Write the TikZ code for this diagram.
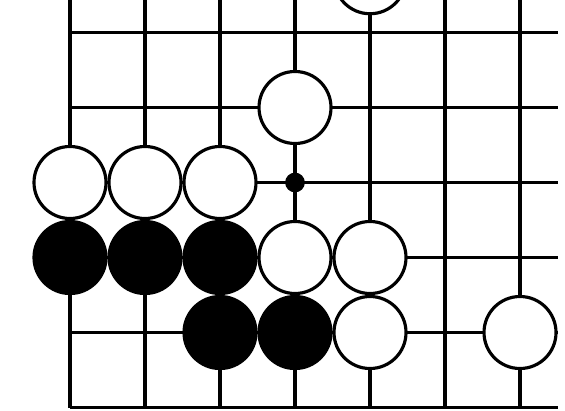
\documentclass[tikz,border=0pt]{standalone}
\usepackage{tikz}
\usetikzlibrary{positioning}

\begin{document}
\begin{tikzpicture}[
  every node/.style={draw, circle, minimum size=0.96cm, inner sep=0pt,
                     line width=1.2pt},
  whitestone/.style={fill=white},
  blackstone/.style={fill=black},
  dotnode/.style={fill=black, minimum size=0.22cm},
  boardline/.style={line width=1.2pt}
]

\clip (-0.9333,-0.0333) rectangle (6.6,5.4333);

%--- Board lines ---
\foreach \x in {0,...,6}
  \draw[boardline] (\x,0) -- (\x,5.5);
\foreach \y in {1,...,5}
  \draw[boardline] (0,\y) -- (6.5,\y);
\draw[line width=1.5pt] (0,0) -- (6.5,0);

%--- White stones ---
\node[whitestone] (W1) at (4, 5.73) {};
\node[whitestone] (W2) at (3, 4)    {};
\node[whitestone] (W3) at (0, 3)    {};
\node[whitestone] (W4) at (1, 3)    {};
\node[whitestone] (W5) at (2, 3)    {};
\node[whitestone] (W6) at (3, 2)    {};
\node[whitestone] (W7) at (4, 2)    {};
\node[whitestone] (W8) at (4, 1)    {};
\node[whitestone] (W9) at (6, 1)    {};

%--- Black stones ---
\node[blackstone] (B1) at (0, 2) {};
\node[blackstone] (B2) at (1, 2) {};
\node[blackstone] (B3) at (2, 2) {};
\node[blackstone] (B4) at (2, 1) {};
\node[blackstone] (B5) at (3, 1) {};

% point marked on the board
\node[dotnode] (P) at (3, 3) {};

\end{tikzpicture}
\end{document}
